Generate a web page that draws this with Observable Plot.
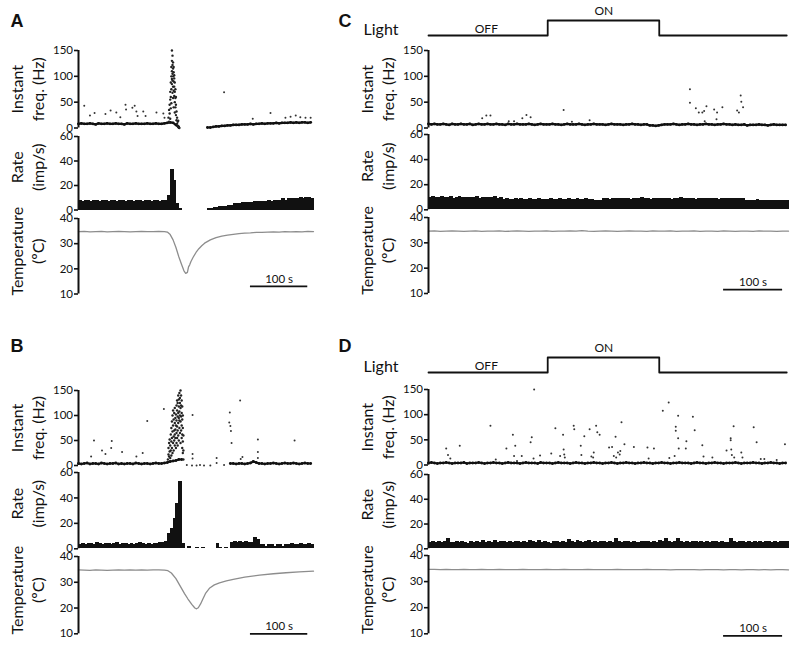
<!DOCTYPE html>
<html>
<head>
<meta charset="utf-8">
<script src="https://cdn.jsdelivr.net/npm/d3@7"></script>
<script src="https://cdn.jsdelivr.net/npm/@observablehq/plot@0.6"></script>
<style>
  html, body { margin: 0; padding: 0; background: #fff; }
  #root { position: relative; width: 800px; height: 651px; overflow: hidden; background: #fff; }
  .letter { position: absolute; width: 20px; text-align: center; font: bold 18px "Liberation Sans", Arial, sans-serif; line-height: 18px; color: #111; }
</style>
</head>
<body>
<div id="root"></div>
<script>
// ---------------- DATA ----------------
const binWidth = 5;        // s, rate bins and freq baseline sampling
const durationAB = 410;    // s
const durationCD = 610;    // s
const freqTicks = [0, 50, 100, 150];
const rateTicks = [0, 20, 40, 60];
const tempTicks = [10, 20, 30, 40];

// Light stimulus (panels C, D): times (s) and state (0 = OFF, 1 = ON)
const lightTimes = [0, 202, 391, 607];
const lightState = [0, 1, 0, 0];

// ----- Panel A -----
const freqBaseA = [8,9,8,8,9,8,7,9,8,8, 9,8,8,9,8,8,7,9,8,8, 9,8,8,8,9,8,8,9,8,8, 9,
  10,11,10,6,1, null,null,null,null,null,null,null,null,null,
  1,1,2,3,3,4,4,5,5,6, 6,6,7,7,7,8,7,8,8,9, 8,9,9,9,10,9,10,10,10,11, 10,11,10,11,11,10,11];
const freqOutA = [[10,43],[20,24],[28,29],[47,27],[56,34],[66,30],[73,21],[82,45],[83,36],[94,39],
  [98,43],[101,32],[103,23],[113,32],[117,23],[136,30],[148,28],[150,20],[254,69],[304,18],
  [335,29],[361,20],[370,22],[379,24],[387,21],[396,20],[405,20]];
const freqBurstA = [[157,20],[158,35],[158,12],[159,28],[159,45],[160,55],[160,18],[160,70],[161,38],[161,88],
  [161,60],[162,100],[162,75],[162,118],[162,48],[163,130],[163,95],[163,110],[163,150],[163,85],
  [164,140],[164,105],[164,122],[164,68],[164,92],[165,115],[165,80],[165,100],[165,127],[165,58],
  [166,108],[166,90],[166,72],[166,118],[166,40],[167,96],[167,62],[167,80],[167,102],[168,70],
  [168,50],[168,88],[168,30],[169,58],[169,40],[169,75],[170,45],[170,25],[170,60],[171,32],
  [171,15],[172,20],[172,8],[173,12],[174,4],[175,2],[176,0],[174,14]];
const rateA = [8,7,8,8,7,8,8,7,8,8, 7,8,8,7,8,8,7,8,8,7, 8,8,7,8,8,7,8,8,7,8,
  8,12,33,24,5,1, 0,0,0,0,0,0,0,0,0,
  1,1,2,2,3,3,3,4,4,5, 5,5,6,6,6,6,7,7,7,7, 7,8,7,8,8,8,9,8,9,9, 9,9,10,9,10,10,9];
const tempTimesA = [0,10,20,30,40,50,60,70,80,90,100,110,120,130,140,150,155,160,165,170,175,180,184,187,190,192,194,196,200,205,210,215,220,230,240,250,260,270,280,290,300,310,320,330,340,350,360,370,380,390,400,410];
const tempA = [34.8,34.9,34.7,34.8,34.9,34.7,34.8,34.9,34.8,34.7,34.8,34.9,34.8,34.8,34.9,34.8,34.6,33.6,31.5,28.5,24.8,21.6,19.2,18.2,18.6,20.8,21.6,22.8,24.6,26.5,28.0,29.2,30.2,31.5,32.4,33.0,33.4,33.7,34.0,34.2,34.3,34.5,34.5,34.6,34.7,34.6,34.8,34.7,34.8,34.7,34.9,34.8];

// ----- Panel B -----
const freqBaseB = [4,3,4,5,3,4,4,3,5,4, 3,4,4,5,3,4,3,4,4,3, 5,4,3,4,4,3,4,5,4,4,
  5,6,8,9,10,12,12,
  null,null,null,null,null,null,null,null,null,null,null,null,null,null,null,null,
  4,4,3,4,4,3,4,5,8,6,4,
  4,3,4,4,5,4,3,4,5,4,4,5,4,3,4,5,4,4];
const freqOutB = [[22,18],[27,50],[41,30],[47,23],[57,35],[58,49],[76,27],[101,18],[112,25],[120,89],
  [149,113],[199,101],[199,23],[199,14],[241,15],[241,5],[264,106],[263,86],[265,79],[266,69],
  [267,45],[282,130],[283,13],[286,17],[313,52],[313,27],[313,15],[377,50],[189,1],[198,0],
  [206,0],[212,1],[219,0],[254,1],[230,0]];
const freqBurstB = [[156,12],[157,22],[157,35],[158,18],[158,45],[159,28],[159,52],[160,15],[160,40],[161,62],
  [161,30],[162,48],[162,20],[162,75],[163,55],[163,88],[163,35],[164,68],[164,100],[164,25],
  [165,80],[165,45],[165,110],[166,58],[166,92],[166,30],[167,70],[167,105],[167,50],[168,85],
  [168,62],[168,40],[168,115],[169,95],[169,72],[169,55],[170,80],[170,102],[170,35],[171,120],
  [171,90],[171,65],[171,45],[172,110],[172,130],[172,78],[172,55],[173,98],[173,125],[173,70],
  [173,40],[174,140],[174,105],[174,85],[174,60],[175,118],[175,95],[175,132],[175,50],[176,145],
  [176,108],[176,75],[176,90],[177,125],[177,100],[177,135],[177,65],[178,150],[178,115],[178,88],
  [178,45],[179,140],[179,120],[179,98],[179,70],[180,130],[180,105],[180,80],[180,55],[181,118],
  [181,92],[181,62],[181,35],[182,100],[182,75],[182,48],[182,25],[183,60],[183,30],[183,12]];
const rateB = [3,4,3,4,4,3,5,4,3,4, 4,3,4,5,3,4,4,3,4,3, 4,5,4,3,4,3,4,4,5,
  5,6,12,16,24,36,53,4,
  0,2,0,0,1,0,1,0,0,0,0,4,1,0,1,0,
  5,6,5,6,5,6,5,5,9,7,3,
  3,2,3,3,2,3,3,2,3,3,4,3,3,4,3,3,4,3];
const tempTimesB = [0,10,20,30,40,50,60,70,80,90,100,110,120,130,140,150,156,162,170,177,185,191,198,203,206,209,213,217,222,229,237,246,258,270,290,316,340,362,385,410];
const tempB = [34.8,34.7,34.6,34.8,34.7,34.6,34.7,34.8,34.7,34.8,34.7,34.8,34.7,34.8,34.8,34.7,34.5,33.6,31.4,28.7,25.6,23.5,21.3,20.0,19.7,20.1,21.6,23.5,25.8,27.8,29.0,29.8,30.5,31.1,32.0,32.8,33.3,33.7,34.0,34.3];

// ----- Panel C -----
const freqBaseC = [8,7,8,7,7,8,7,6,8,7, 7,8,7,7,8,6,7,8,7,7, 8,7,7,8,7,7,6,8,7,7, 8,7,7,7,8,7,6,7,8,7,
  7,7,8,7,7,6,7,8,7,7, 7,8,7,6,7,7,8,7,7,7, 6,7,8,7,7,7,6,7,7,8, 7,7,6,7,7,5,5,4,5,6,
  7,7,7,8,7,6,7,7,8,7, 7,6,7,7,8,7,7,6,7,7, 8,7,7,6,7,6,6,7,5,6, 6,6,7,6,6,5,6,7,6,6, 6,6];
const freqOutC = [[91,19],[98,24],[105,24],[136,13],[145,13],[159,19],[166,25],[173,21],[229,35],[243,12],
  [273,15],[443,75],[443,49],[453,38],[458,30],[464,30],[467,33],[468,13],[471,42],[484,36],
  [488,17],[489,30],[498,40],[523,34],[526,30],[529,63],[530,51],[533,40]];
const rateC = [9.8,10.5,9.6,9.9,10.6,9.5,9.8,10.2,9.4,9.9, 10.4,9.6,9.7,10.1,9.5,9.8,10.3,9.4,9.6,10.0, 9.5,9.7,10.2,9.4,9.6,
  8.6,8.9,8.3,8.5,9.0,8.4,8.7,8.2,8.6,8.9, 8.4,8.5,8.8,8.3,8.6,8.4,8.9,8.5,8.2,8.7, 8.6,8.4,8.8,8.3,8.5,8.7,8.4,8.6,8.9,8.3,8.5,
  7.5,7.3,7.6,
  8.8,9.2,8.6,8.9,9.4,8.7,9.0,8.8,9.3,8.6, 9.1,8.9,8.7,9.5,8.8,9.0,8.6,9.2,8.9,8.7, 9.3,8.8,9.0,8.6,9.1,8.9,9.6,8.7,9.0,8.8,
  9.2,8.6,9.0,8.9,9.3,8.7,9.1,8.8,9.0,8.6, 9.4,8.9,8.7,9.1,8.8,9.0,8.7,9.2,
  7.5,7.8,7.3,7.6,7.9,7.4,7.7,7.5,7.8,7.3,7.6,7.8,7.4,7.7,7.5];
const tempStep = 10; // s
const tempC = [34.6,34.7,34.5,34.6,34.7,34.6,34.5,34.6,34.7,34.5, 34.6,34.6,34.7,34.5,34.6,34.7,34.6,34.5,34.6,34.6,
  34.7,34.5,34.6,34.6,34.7,34.6,34.8,34.6,34.5,34.6, 34.7,34.6,34.5,34.6,34.7,34.6,34.6,34.5,34.7,34.6,
  34.6,34.7,34.5,34.6,34.6,34.7,34.5,34.6,34.6,34.5, 34.7,34.6,34.5,34.6,34.6,34.5,34.7,34.6,34.6,34.5, 34.6,34.6];

// ----- Panel D -----
const freqBaseD = [4,5,4,3,4,4,5,4,3,4, 4,4,5,3,4,4,4,5,4,3, 4,4,5,4,4,3,4,5,4,4, 4,3,4,5,4,4,4,3,5,4,
  4,4,3,4,5,4,4,4,3,4, 5,4,4,3,4,4,5,4,4,3, 4,4,5,4,3,4,4,5,4,4, 3,4,4,5,4,4,3,4,4,5,
  4,4,3,4,4,5,4,4,4,3, 4,5,4,4,3,4,4,5,4,4, 3,4,4,4,5,4,3,4,4,4, 5,4,4,3,4,4,5,4,4,3, 4,4];
const freqOutD = [[30,33],[33,20],[37,13],[53,38],[105,78],[114,11],[132,33],[143,60],[147,38],[145,18],
  [150,8],[158,18],[173,45],[175,55],[179,150],[178,13],[189,19],[208,23],[215,73],[223,18],
  [228,60],[229,31],[230,21],[231,15],[246,78],[247,71],[258,38],[259,20],[264,57],[273,71],
  [276,17],[280,25],[279,15],[284,78],[286,65],[290,60],[306,35],[311,36],[314,18],[317,56],
  [318,15],[321,25],[324,21],[325,28],[327,85],[332,41],[348,36],[371,35],[373,13],[382,33],
  [397,108],[407,124],[408,14],[417,18],[419,76],[419,68],[423,53],[423,98],[424,33],[436,33],
  [437,47],[448,96],[451,69],[464,39],[466,17],[481,15],[505,29],[512,53],[512,49],[513,31],
  [514,20],[517,77],[518,15],[530,25],[532,15],[551,75],[556,45],[563,12],[569,12],[590,10],[604,41]];
const rateD = [5.4,5.8,5.0,6.2,5.3,5.6,8.4,5.2,5.0,5.7, 4.8,5.5,5.2,4.6,5.9,5.1,5.6,4.9,6.3,5.4,
  5.7,5.2,6.6,5.0,5.5,6.1,5.3,5.8,5.0,5.6, 6.0,5.4,5.9,5.2,6.4,5.5,5.1,6.7,5.4,5.8,
  5.3,4.5,6.1,5.6,5.2,5.9,5.4,7.6,5.7,5.1, 6.3,5.5,5.0,5.8,6.6,5.3,5.6,5.2,6.0,5.5,
  5.3,5.9,5.4,8.5,5.7,5.1,6.2,5.6,5.3,5.9, 5.4,5.0,5.8,5.5,6.1,5.3,5.7,5.2,6.4,5.6,
  8.6,5.5,5.0,5.8,8.3,5.9,5.4,5.6,5.2,6.0, 5.5,5.3,5.8,5.1,5.7,5.4,6.2,5.6,5.3,5.9,
  5.4,5.0,8.4,5.7,5.2,5.6,5.9,5.3,5.5,5.1, 5.8,5.4,6.0,5.2,5.7,5.5,5.3,6.1,5.4,5.6, 5.8,6.0];
const tempD = [34.7,34.7,34.6,34.7,34.6,34.6,34.7,34.6,34.6,34.7, 34.6,34.6,34.7,34.6,34.6,34.6,34.7,34.6,34.6,34.6,
  34.7,34.6,34.6,34.7,34.6,34.6,34.6,34.7,34.6,34.6, 34.6,34.6,34.7,34.6,34.6,34.6,34.6,34.7,34.6,34.6,
  34.6,34.5,34.6,34.6,34.6,34.6,34.5,34.6,34.6,34.6, 34.5,34.6,34.6,34.5,34.6,34.6,34.5,34.6,34.5,34.6, 34.6,34.5];

// ---------------- DRAWING ----------------
const FONT = "Lato, 'Open Sans', sans-serif";
const INK = "#111";
const root = document.getElementById("root");

const series = (arr, step) => arr.map((v, i) => ({t: i * step, v}));
const paired = (ts, vs) => ts.map((t, i) => ({t, v: vs[i]}));
const pts = (arr) => arr.map(([t, v]) => ({t, v}));

function axisMarks(ticks) {
  const common = {tickSize: 4, tickPadding: 1.5, fontSize: 11.5, tickFormat: d => String(d), fill: INK};
  if (!Plot.axisTextY || !Plot.axisTickY) {
    return [Plot.axisY({ticks, label: null, strokeWidth: 1.6, ...common})];
  }
  const lo = ticks[0], hi = ticks[ticks.length - 1];
  return [
    Plot.axisTickY({ticks, tickSize: 4, strokeWidth: 1.6, stroke: INK}),
    Plot.axisTextY({ticks: ticks.slice(1, -1), ...common}),
    Plot.axisTextY({ticks: [lo], dy: -3, ...common}),
    Plot.axisTextY({ticks: [hi], dy: 2.5, ...common})
  ];
}

function sub({colLeft, x0, x1, y0, y1, T, yDomain, ticks, marks, label, labelDy = 0}) {
  const mt = 8, mb = 8, mr = 8;
  const ml = x0 - colLeft;
  const labelMarks = label ? label.map((line, i) =>
    Plot.text([line], {frameAnchor: "left", textAnchor: "middle", lineAnchor: "middle",
      dx: (i === 0 ? 17.5 : 38.5) - ml, dy: labelDy, rotate: -90, fontSize: 16, fill: INK})) : [];
  const p = Plot.plot({
    width: x1 - colLeft + mr,
    height: (y1 - y0) + mt + mb,
    marginLeft: ml, marginRight: mr, marginTop: mt, marginBottom: mb,
    x: {domain: [0, T], axis: null},
    y: {domain: yDomain, axis: null},
    style: {fontFamily: FONT, fontSize: "12px", overflow: "visible", background: "none", color: INK},
    marks: [
      ...marks,
      ticks ? Plot.ruleX([0], {stroke: INK, strokeWidth: 2}) : null,
      ...(ticks ? axisMarks(ticks) : []),
      ...labelMarks
    ]
  });
  p.style.position = "absolute";
  p.style.left = colLeft + "px";
  p.style.top = (y0 - mt) + "px";
  root.append(p);
}

function freqMarks(base, outliers, burst) {
  const b = series(base, binWidth);
  return [
    Plot.line(b, {x: "t", y: "v", stroke: INK, strokeWidth: 2.2}),
    Plot.dot(b, {x: "t", y: "v", r: 1.4, fill: INK}),
    Plot.dot(pts(outliers), {x: "t", y: "v", r: 1, fill: "#333"}),
    burst ? Plot.dot(pts(burst), {x: "t", y: "v", r: 1.2, fill: "#222"}) : null
  ];
}
function rateMarks(rate) {
  return [Plot.rectY(series(rate, binWidth), {x1: "t", x2: d => d.t + binWidth, y: "v", fill: INK,
    insetLeft: 0, insetRight: -1, shapeRendering: "crispEdges"})];
}
function barStart(data) { return data[data.length - 1].t > 500 ? 500 : 300; }
function tempMarks(data, barY) {
  const s = barStart(data);
  return [
    Plot.line(data, {x: "t", y: "v", stroke: "#8d8d8d", strokeWidth: 1.3}),
    Plot.ruleY([barY], {x1: s, x2: s + 100, stroke: INK, strokeWidth: 1.8}),
    Plot.text(["100 s"], {x: s + 50, y: barY, dy: -7.5, fontSize: 11.5, fill: INK})
  ];
}

function lightMarks() {
  const d = paired(lightTimes, lightState);
  return [
    Plot.line(d, {x: "t", y: "v", curve: "step-after", stroke: INK, strokeWidth: 1.8}),
    Plot.text(["OFF"], {x: 98, y: 0, dy: -6, fontSize: 12, fill: INK}),
    Plot.text(["ON"], {x: 297, y: 1, dy: -9, fontSize: 12, fill: INK}),
    Plot.text(["Light"], {frameAnchor: "left", dx: -30, dy: 2, textAnchor: "end", fontSize: 16, fill: INK})
  ];
}

const freqLabel = ["Instant", "freq. (Hz)"];
const rateLabel = ["Rate", "(imp/s)"];
const tempLabel = ["Temperature", "(ºC)"];

// Panel A
sub({colLeft: 0, x0: 78, x1: 313, y0: 49.5, y1: 127, T: durationAB, yDomain: [0, 150], ticks: freqTicks,
     marks: freqMarks(freqBaseA, freqOutA, freqBurstA), label: freqLabel});
sub({colLeft: 0, x0: 78, x1: 313, y0: 135.5, y1: 209, T: durationAB, yDomain: [0, 60], ticks: rateTicks,
     marks: rateMarks(rateA), label: rateLabel, labelDy: -6});
sub({colLeft: 0, x0: 78, x1: 313, y0: 218, y1: 293.5, T: durationAB, yDomain: [10, 40], ticks: tempTicks,
     marks: tempMarks(paired(tempTimesA, tempA), 13), label: tempLabel, labelDy: -5});

// Panel B
sub({colLeft: 0, x0: 78, x1: 313, y0: 389.5, y1: 464.5, T: durationAB, yDomain: [0, 150], ticks: freqTicks,
     marks: freqMarks(freqBaseB, freqOutB, freqBurstB), label: freqLabel});
sub({colLeft: 0, x0: 78, x1: 313, y0: 472, y1: 548.3, T: durationAB, yDomain: [0, 60], ticks: rateTicks,
     marks: rateMarks(rateB), label: rateLabel, labelDy: -7});
sub({colLeft: 0, x0: 78, x1: 313, y0: 556, y1: 633.3, T: durationAB, yDomain: [10, 40], ticks: tempTicks,
     marks: tempMarks(paired(tempTimesB, tempB), 10), label: tempLabel, labelDy: -5});

// Panel C
sub({colLeft: 350, x0: 428, x1: 788, y0: 20, y1: 35, T: durationCD, yDomain: [0, 1], ticks: null, marks: lightMarks()});
sub({colLeft: 350, x0: 428, x1: 788, y0: 49.5, y1: 127, T: durationCD, yDomain: [0, 150], ticks: freqTicks,
     marks: freqMarks(freqBaseC, freqOutC, null), label: freqLabel});
sub({colLeft: 350, x0: 428, x1: 788, y0: 134, y1: 209.3, T: durationCD, yDomain: [0, 60], ticks: rateTicks,
     marks: rateMarks(rateC), label: rateLabel, labelDy: -6});
sub({colLeft: 350, x0: 428, x1: 788, y0: 217.3, y1: 293.3, T: durationCD, yDomain: [10, 40], ticks: tempTicks,
     marks: tempMarks(series(tempC, tempStep), 11.5), label: tempLabel, labelDy: -5});

// Panel D
sub({colLeft: 350, x0: 428, x1: 788, y0: 357, y1: 372, T: durationCD, yDomain: [0, 1], ticks: null, marks: lightMarks()});
sub({colLeft: 350, x0: 428, x1: 788, y0: 389, y1: 464.5, T: durationCD, yDomain: [0, 150], ticks: freqTicks,
     marks: freqMarks(freqBaseD, freqOutD, null), label: freqLabel});
sub({colLeft: 350, x0: 428, x1: 788, y0: 474, y1: 548.3, T: durationCD, yDomain: [0, 60], ticks: rateTicks,
     marks: rateMarks(rateD), label: rateLabel, labelDy: -7});
sub({colLeft: 350, x0: 428, x1: 788, y0: 555, y1: 633.3, T: durationCD, yDomain: [10, 40], ticks: tempTicks,
     marks: tempMarks(series(tempD, tempStep), 9.2), label: tempLabel, labelDy: -5});

// Panel letters
[["A", 17, 21], ["B", 17, 346], ["C", 345, 21], ["D", 345, 346]].forEach(([s, cx, cy]) => {
  const d = document.createElement("div");
  d.className = "letter";
  d.textContent = s;
  d.style.left = (cx - 10) + "px";
  d.style.top = (cy - 9) + "px";
  root.append(d);
});
</script>
</body>
</html>
